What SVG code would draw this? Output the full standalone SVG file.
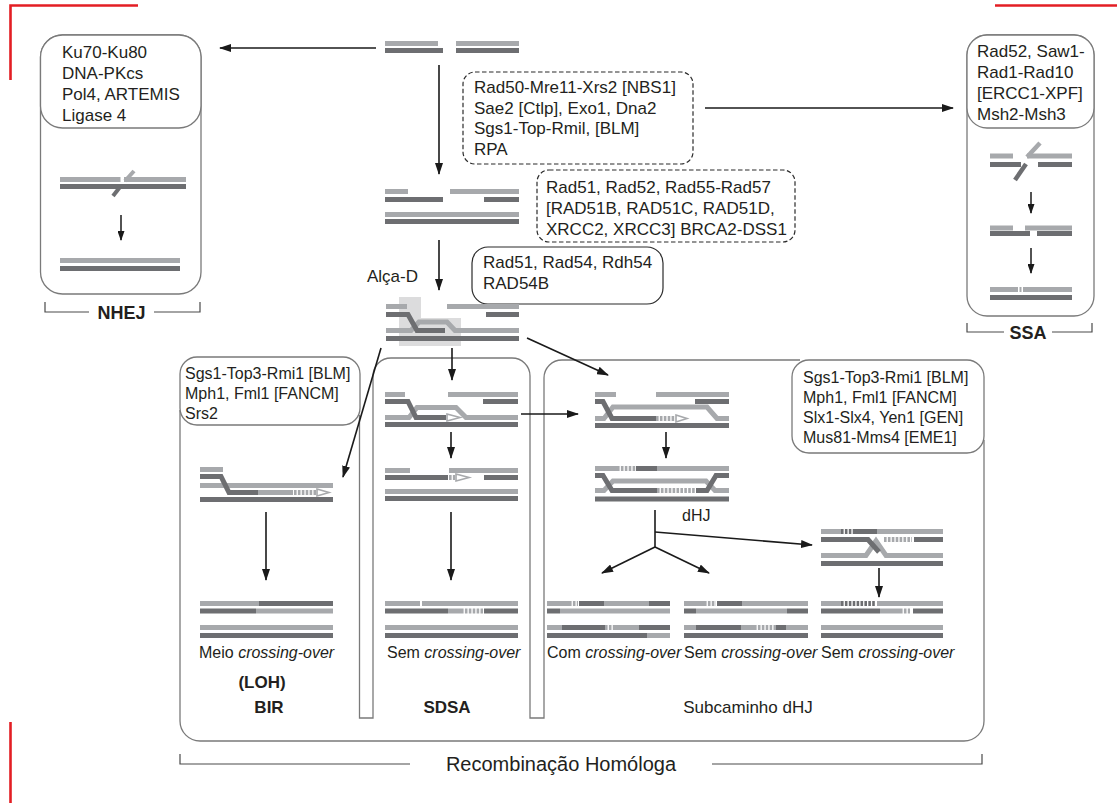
<svg xmlns="http://www.w3.org/2000/svg" width="1117" height="803" viewBox="0 0 1117 803">
<defs>
<style>
text{font-family:"Liberation Sans",Arial,Helvetica,sans-serif;fill:#231f20}
.t17{font-size:17px}
.t16{font-size:16px}
.b{font-weight:bold}
.c{text-anchor:middle}
.it{font-style:italic}
.box{fill:#fff;stroke:#7a7a7a;stroke-width:1.3}
.outl{fill:none;stroke:#7a7a7a;stroke-width:1.3}
.dbox{fill:#fff;stroke:#2b2b2b;stroke-width:1.2;stroke-dasharray:4.5 2.5}
.sbox{fill:#fff;stroke:#2b2b2b;stroke-width:1.2}
.arr{stroke:#1a1a1a;stroke-width:1.6;fill:none;marker-end:url(#ah)}
.arrs{stroke:#1a1a1a;stroke-width:1.5;fill:none;marker-end:url(#ahs)}
.ln{stroke:#1a1a1a;stroke-width:1.6;fill:none}
.brk{stroke:#4a4a4a;stroke-width:1.2;fill:none}
.red{stroke:#e31e24;stroke-width:2.6;fill:none}
.L{stroke:#a7a9ac;stroke-width:5;fill:none}
.D{stroke:#6d6e71;stroke-width:5;fill:none}
.Lq{stroke:#a7a9ac;stroke-width:5;fill:none;stroke-dasharray:2.6 1.3}
.Dq{stroke:#6d6e71;stroke-width:5;fill:none;stroke-dasharray:2.6 1.3}
.tip{fill:#fff;stroke:#a7a9ac;stroke-width:1.6}
.hl{fill:#dcdcdd}
</style>
<marker id="ah" viewBox="0 0 12 8" refX="11" refY="4" markerWidth="12" markerHeight="8" markerUnits="userSpaceOnUse" orient="auto"><path d="M0,0 L12,4 L0,8 z" fill="#1a1a1a"/></marker>
<marker id="ahs" viewBox="0 0 10 7" refX="9" refY="3.5" markerWidth="10" markerHeight="7" markerUnits="userSpaceOnUse" orient="auto"><path d="M0,0 L10,3.5 L0,7 z" fill="#1a1a1a"/></marker>
</defs>

<!-- corner crop marks -->
<g id="crop-marks">
<path class="red" d="M10.5,80 V5.5 H138"/>
<path class="red" d="M995,5.5 H1117"/>
<path class="red" d="M10.5,722 V803"/>
</g>

<!-- double-strand break -->
<g id="dsb">
<path class="L" d="M385,43.5H438 M456,43.5H519"/>
<path class="D" d="M385,50.5H443 M456,50.5H519"/>
</g>

<!-- NHEJ panel -->
<g id="nhej">
<rect class="box" x="40.5" y="35" width="160.5" height="259" rx="22"/>
<rect class="box" x="40.5" y="35" width="160.5" height="93" rx="22"/>
<text class="t17" x="62" y="58">Ku70-Ku80</text>
<text class="t17" x="62" y="79">DNA-PKcs</text>
<text class="t17" x="62" y="100">Pol4, ARTEMIS</text>
<text class="t17" x="62" y="121">Ligase 4</text>
<path class="L" d="M60,179.5H120.5 M124,179.5H186"/>
<path class="D" d="M60,186.5H186"/>
<path class="L" style="stroke-width:4" d="M125,181 L134,171"/>
<path class="D" style="stroke-width:4" d="M120,187 L113,196"/>
<path class="arrs" d="M121,215 V240"/>
<path class="L" d="M60,260.5H180"/>
<path class="D" d="M60,268.5H180"/>
<path class="brk" d="M45,302 V312 H89 M154,312 H200 V302"/>
<text class="b c" style="font-size:18px" x="121.5" y="318.5">NHEJ</text>
</g>

<!-- resection factors -->
<g id="resection">
<rect class="dbox" x="463" y="72" width="230" height="92" rx="12"/>
<text class="t17" x="474" y="93">Rad50-Mre11-Xrs2 [NBS1]</text>
<text class="t17" x="474" y="113.5">Sae2 [Ctlp], Exo1, Dna2</text>
<text class="t17" x="474" y="134">Sgs1-Top-Rmil, [BLM]</text>
<text class="t17" x="474" y="154.5">RPA</text>
</g>

<!-- resected ends -->
<g id="resected">
<path class="L" d="M385,191.5H408 M450,191.5H519"/>
<path class="D" d="M385,199.5H443 M484,199.5H519"/>
<path class="L" d="M385,214.5H519"/>
<path class="D" d="M385,221.5H519"/>
</g>

<!-- strand invasion factors -->
<g id="loading">
<rect class="dbox" x="537" y="170" width="258" height="72" rx="12"/>
<text class="t17" x="546" y="193">Rad51, Rad52, Rad55-Rad57</text>
<text class="t17" x="546" y="214">[RAD51B, RAD51C, RAD51D,</text>
<text class="t17" x="546" y="235">XRCC2, XRCC3] BRCA2-DSS1</text>
</g>

<g id="invasion">
<rect class="sbox" x="472" y="247" width="191" height="57" rx="16"/>
<text class="t17" x="483" y="268">Rad51, Rad54, Rdh54</text>
<text class="t17" x="483" y="289">RAD54B</text>
</g>

<!-- D-loop -->
<g id="dloop">
<text class="t17" x="367" y="282">Alça-D</text>
<polygon class="hl" points="399,297 421,297 421,318 461,318 461,346 399,346"/>
<path class="L" d="M386,306.5H407 M447,306.5H519"/>
<path class="D" d="M486,314.5H519"/>
<path class="L" d="M386,330.5H411 L419,322 H447 L455,330.5 H519"/>
<path class="D" d="M386,314.5H408 L417,330.5 H445"/>
<path class="D" d="M386,338.5H519"/>
</g>

<!-- SSA panel -->
<g id="ssa">
<rect class="box" x="967" y="35" width="127" height="281" rx="20"/>
<rect class="box" x="967" y="35" width="127" height="93" rx="20"/>
<text class="t17" x="977" y="57">Rad52, Saw1-</text>
<text class="t17" x="977" y="78">Rad1-Rad10</text>
<text class="t17" x="977" y="99">[ERCC1-XPF]</text>
<text class="t17" x="977" y="120">Msh2-Msh3</text>
<path class="L" d="M990,156H1013 M1027,156H1072"/>
<path class="D" d="M990,164.5H1021 M1038,164.5H1072"/>
<path class="L" style="stroke-width:4.5" d="M1027,157 L1040,143"/>
<path class="D" style="stroke-width:4.5" d="M1026,164 L1015,180"/>
<path class="arrs" d="M1031,192 V213"/>
<path class="D" d="M990,233.5H1030 M1037,233.5H1072"/>
<path class="L" d="M990,228H1013 M1025,228H1072"/>
<path class="arrs" d="M1031,248 V273"/>
<path class="L" d="M990,289.5H1018 M1019.5,289.5H1021.5 M1023,289.5H1072"/>
<path class="D" d="M990,297.5H1072"/>
<path class="brk" d="M967,323 V332 H1004 M1052,332 H1092 V323"/>
<text class="b c" style="font-size:18px" x="1028" y="338.5">SSA</text>
</g>

<!-- homologous recombination frame -->
<g id="hr-frame">
<path class="outl" d="M180,410 V721 A20,20 0 0 0 200,741 H964 A20,20 0 0 0 984,721 V440"/>
<path class="outl" d="M359.5,415 V718 H373 V376 A18,18 0 0 1 391,358 H512 A18,18 0 0 1 530,376 V718 H544 V378 A18,18 0 0 1 562,360 H800"/>
</g>

<g id="bir-factors">
<rect class="box" x="180" y="357" width="180" height="68" rx="17"/>
<text class="t16" x="185" y="379">Sgs1-Top3-Rmi1 [BLM]</text>
<text class="t16" x="185" y="399">Mph1, Fml1 [FANCM]</text>
<text class="t16" x="185" y="419">Srs2</text>
</g>

<g id="dhj-factors">
<rect class="box" x="792" y="360" width="192" height="93" rx="17"/>
<text class="t16" x="803" y="383">Sgs1-Top3-Rmi1 [BLM]</text>
<text class="t16" x="803" y="403">Mph1, Fml1 [FANCM]</text>
<text class="t16" x="803" y="423">Slx1-Slx4, Yen1 [GEN]</text>
<text class="t16" x="803" y="443">Mus81-Mms4 [EME1]</text>
</g>

<!-- BIR -->
<g id="bir">
<path class="L" d="M200,469.5H223"/>
<path class="L" d="M200,485.5H333"/>
<path class="D" d="M200,476.5H221 L229,492.5 H258"/>
<path class="L" d="M258,492.5H293"/>
<path class="Lq" d="M294,492.5H316"/>
<polygon class="tip" points="317,489 329,492.5 317,496"/>
<path class="D" d="M200,499.5H333"/>
<path class="L" d="M200,603.5H259"/><path class="D" d="M259,603.5H333"/>
<path class="D" d="M200,611H256"/><path class="L" d="M256,611H333"/>
<path class="L" d="M200,627.5H333"/>
<path class="D" d="M200,635.5H333"/>
<text class="t16" x="199" y="658">Meio <tspan class="it">crossing-over</tspan></text>
<text class="b c t17" x="262" y="688">(LOH)</text>
<text class="b c t17" x="269" y="713">BIR</text>
</g>

<!-- SDSA -->
<g id="sdsa">
<path class="L" d="M385,394.5H405 M448,394.5H518"/>
<path class="D" d="M483,401.5H518"/>
<path class="L" d="M385,417.5H409 L417,407.5 H456 L466,417.5 H518"/>
<path class="D" d="M385,401.5H408 L416,417.5 H446"/>
<polygon class="tip" points="447,414 460,417.5 447,421"/>
<path class="D" d="M385,424.5H518"/>

<path class="L" d="M385,470.5H410 M449,470.5H518"/>
<path class="D" d="M385,477.5H448 M484,477.5H518"/>
<path class="Lq" d="M449,477.5H455"/>
<polygon class="tip" points="456,474 469,477.5 456,481"/>
<path class="L" d="M385,491.5H518"/>
<path class="D" d="M385,498.5H518"/>

<path class="L" d="M385,603.5H420 M422,603.5H518"/>
<path class="D" d="M385,611H448 M484,611H518"/>
<path class="L" d="M448,611H461"/>
<path class="Lq" d="M461,611H483"/>
<path class="L" d="M385,627.5H518"/>
<path class="D" d="M385,635.5H518"/>
<text class="t16" x="387" y="658">Sem <tspan class="it">crossing-over</tspan></text>
<text class="b c t17" x="447" y="713">SDSA</text>
</g>

<!-- dHJ sub-pathway -->
<g id="dhj">
<path class="L" d="M595,394.5H616 M656,394.5H729"/>
<path class="D" d="M695,401.5H729"/>
<path class="L" d="M595,418.5H604 L613,407 H707 L717,418.5 H729"/>
<path class="D" d="M595,401.5H603 L612,418.5 H656"/>
<path class="Lq" d="M656,418.5H675"/>
<polygon class="tip" points="676,415 687,418.5 676,422"/>
<path class="D" d="M595,425.5H729"/>

<path class="L" d="M595,468.5H617"/>
<path class="Lq" d="M617,468.5H636"/>
<path class="D" d="M636,468.5H657"/>
<path class="L" d="M657,468.5H729"/>
<path class="L" d="M595,490.5H604 L613,481 H706 L715,490.5 H729"/>
<path class="D" d="M595,475.5H603 L612,490.5 H657"/>
<path class="D" d="M729,475.5H716 L707,490.5 H696"/>
<path class="Lq" d="M657,490.5H696"/>
<path class="D" d="M595,499H729"/>
<text class="t16" x="682" y="521">dHJ</text>
</g>

<g id="product-co">
<path class="L" d="M547,603.5H569"/><path class="Lq" d="M569,603.5H578"/><path class="D" d="M579,603.5H604"/><path class="L" d="M604,603.5H649"/><path class="D" d="M649,603.5H670"/>
<path class="D" d="M547,611H560"/><path class="L" d="M560,611H670"/>
<path class="L" d="M547,627.5H562"/><path class="D" d="M562,627.5H605"/><path class="Lq" d="M605,627.5H613"/><path class="L" d="M613,627.5H639"/><path class="D" d="M639,627.5H670"/>
<path class="D" d="M547,635.5H647"/><path class="L" d="M647,635.5H670"/>
<text class="t16" x="547" y="658">Com <tspan class="it">crossing-over</tspan></text>
</g>

<g id="product-nco">
<path class="L" d="M684,603.5H704"/><path class="Lq" d="M704,603.5H716"/><path class="D" d="M717,603.5H742"/><path class="L" d="M742,603.5H808"/>
<path class="D" d="M684,611H696"/><path class="L" d="M696,611H787"/><path class="D" d="M787,611H808"/>
<path class="L" d="M684,627.5H696"/><path class="D" d="M696,627.5H741"/><path class="L" d="M741,627.5H754"/><path class="Lq" d="M754,627.5H776"/><path class="D" d="M776,627.5H786"/><path class="L" d="M786,627.5H808"/>
<path class="D" d="M684,635.5H808"/>
<text class="t16" x="684" y="658">Sem <tspan class="it">crossing-over</tspan></text>
</g>

<g id="dissolution">
<path class="L" d="M821,531.5H841"/><path class="Dq" d="M841,531.5H853"/><path class="D" d="M853,531.5H877"/><path class="L" d="M877,531.5H943"/>
<path class="L" d="M821,555.5H866 L876,541 L886,555.5 H943"/>
<path class="D" d="M821,539.5H868 L879,552"/>
<path class="Lq" d="M884,539.5H912"/><path class="D" d="M914,539.5H943"/>
<path class="D" d="M821,563.5H943"/>

<path class="L" d="M821,603.5H841"/><path class="Dq" d="M841,603.5H876"/><path class="L" d="M877,603.5H943"/>
<path class="D" d="M821,611H880"/><path class="L" d="M880,611H900"/><path class="Lq" d="M900,611H910"/><path class="D" d="M913,611H943"/>
<path class="L" d="M821,627.5H943"/>
<path class="D" d="M821,635.5H943"/>
<text class="t16" x="821" y="658">Sem <tspan class="it">crossing-over</tspan></text>
</g>

<text class="t17 c" x="748" y="713">Subcaminho dHJ</text>

<!-- connectors -->
<g id="connectors">
<path class="arr" d="M376,48 H220"/>
<path class="arr" d="M439,65 V174"/>
<path class="arr" d="M705,108 H953"/>
<path class="arr" d="M439,240 V290"/>
<path class="arr" d="M381,348 L343,477"/>
<path class="arr" d="M452,348 V380"/>
<path class="arr" d="M527,338 L608,375"/>
<path class="arr" d="M521,414 H578"/>
<path class="arr" d="M266,512 V580"/>
<path class="arr" d="M451,432 V458"/>
<path class="arr" d="M451,512 V580"/>
<path class="arr" d="M666,432 V458"/>
<path class="ln" d="M655,510 V547"/>
<path class="arr" d="M655,532 L812,545"/>
<path class="arr" d="M655,547 L602,573"/>
<path class="arr" d="M655,547 L709,573"/>
<path class="arr" d="M879,568 V597"/>
</g>

<!-- HR bracket -->
<g id="hr-label">
<path class="brk" d="M180,754 V764 H410 M712,764 H982 V754"/>
<text class="c" style="font-size:20px" x="561" y="771">Recombinação Homóloga</text>
</g>
</svg>
